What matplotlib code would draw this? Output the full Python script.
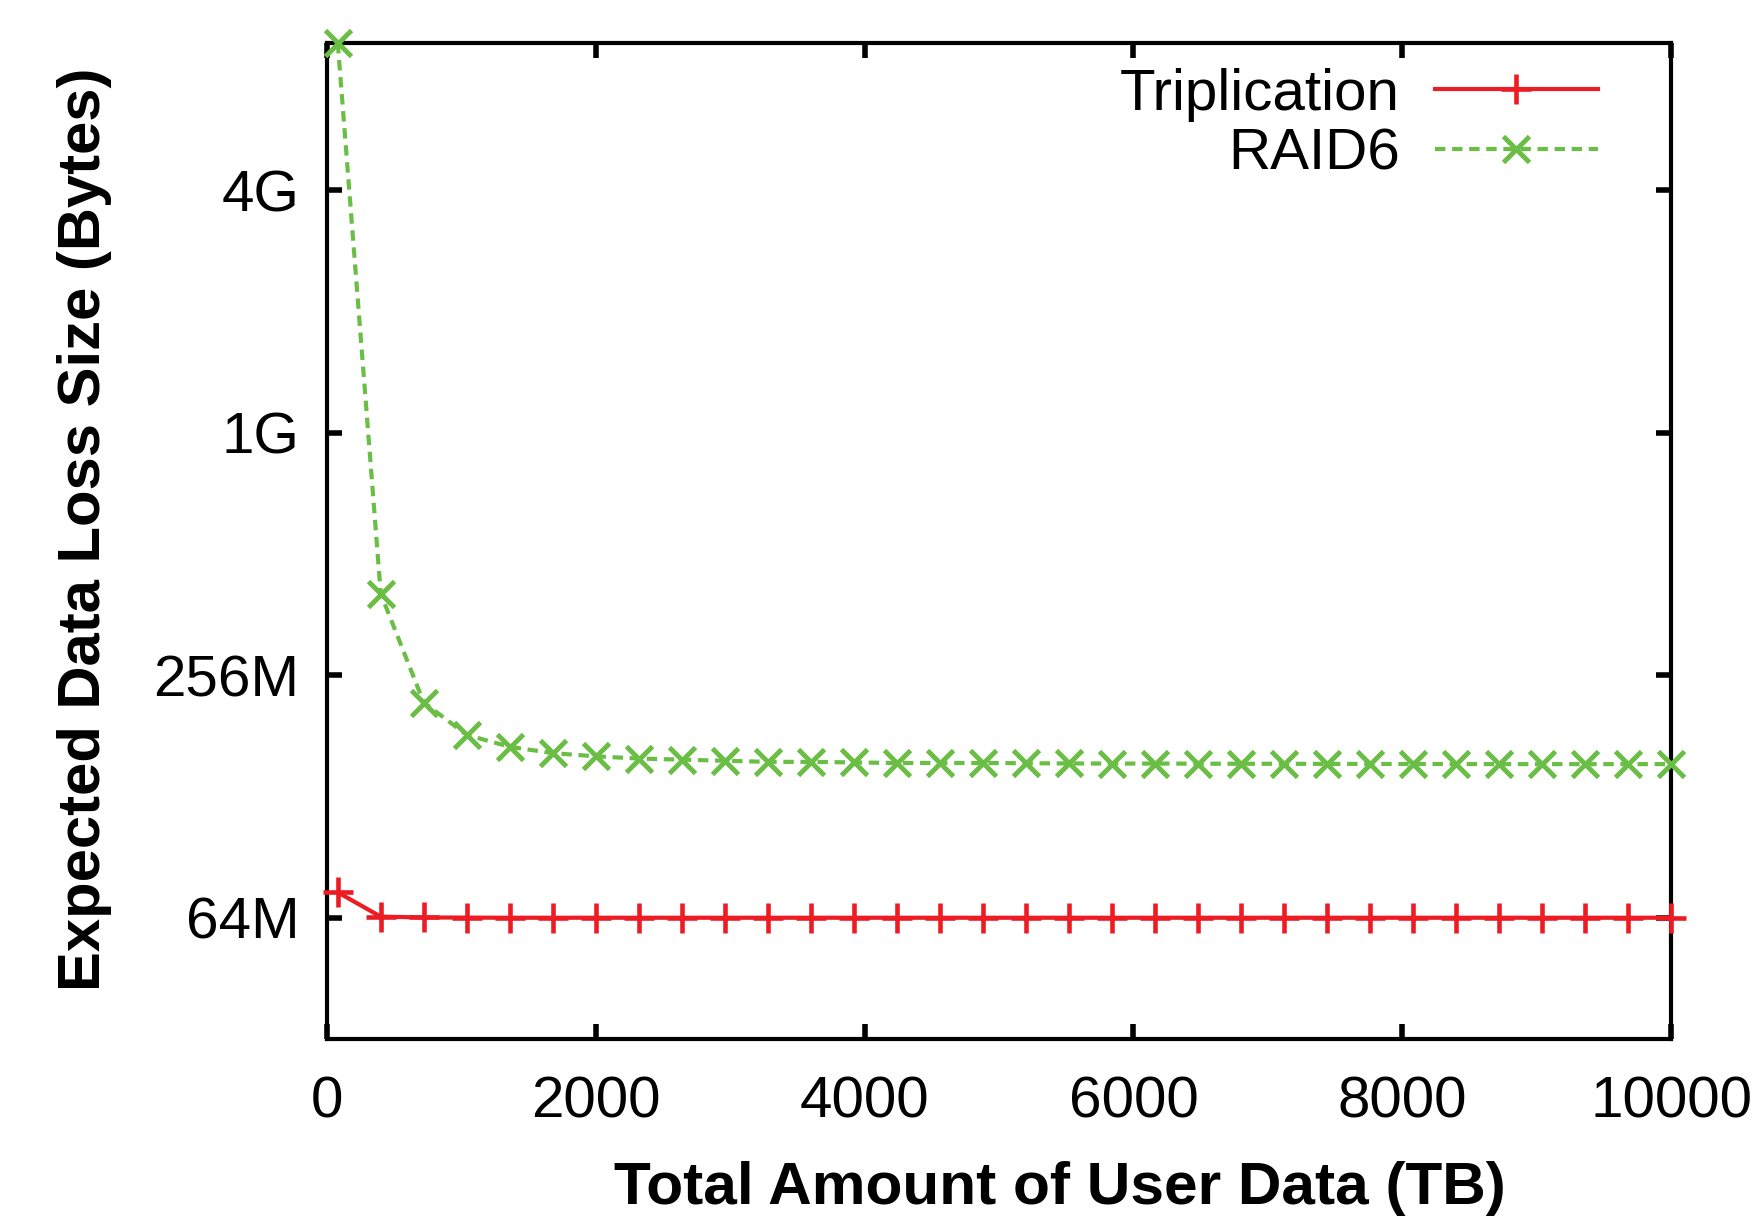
import matplotlib
matplotlib.use("Agg")
import matplotlib.pyplot as plt
from matplotlib.ticker import FixedLocator, NullLocator

# ── data (y in MiB) ──────────────────────────────────────────────────────────
user_data_tb = [80, 400, 720, 1040, 1360, 1680, 2000, 2320, 2640, 2960,
                3280, 3600, 3920, 4240, 4560, 4880, 5200, 5520, 5840, 6160,
                6480, 6800, 7120, 7440, 7760, 8080, 8400, 8720, 9040, 9360,
                9680, 10000]

triplication_mb = [74.0, 64.4, 64.1, 64.05, 64.0, 64.0, 64.0, 64.0, 64.0, 64.0,
                   64.0, 64.0, 64.0, 64.0, 64.0, 64.0, 64.0, 64.0, 64.0, 64.0,
                   64.0, 64.0, 64.0, 64.0, 64.0, 64.0, 64.0, 64.0, 64.0, 64.0,
                   64.0, 64.0]

raid6_mb = [9500, 408, 219, 182, 170, 164, 161, 159, 158, 157,
            156, 156, 155.5, 155, 155, 155, 154.8, 154.6, 154.5, 154.5,
            154.4, 154.3, 154.3, 154.2, 154.2, 154.1, 154.1, 154, 154, 154,
            154, 154]

y_ticks = [64, 256, 1024, 4096]
y_tick_labels = ["64M", "256M", "1G", "4G"]
x_ticks = [0, 2000, 4000, 6000, 8000, 10000]

RED = "#ED1C24"
GREEN = "#6BBE45"

plt.rcParams["font.family"] = ["Liberation Sans", "DejaVu Sans"]

fig = plt.figure(figsize=(17.64, 12.19), dpi=100)
ax = fig.add_axes([327 / 1764, 1 - 1039 / 1219, (1671 - 327) / 1764, (1039 - 43) / 1219])

ax.plot(user_data_tb, triplication_mb, color=RED, lw=3, marker="+",
        ms=21, mew=3.3, label="Triplication", clip_on=False, zorder=3)
ax.plot(user_data_tb, raid6_mb, color=GREEN, lw=3, ls=(0, (2.5, 1.6)), marker="x",
        ms=19, mew=3.5, label="RAID6", clip_on=False, zorder=3)

ax.set_yscale("log", base=2)
ax.set_xlim(0, 10000)
ax.set_ylim(32, 9500)
ax.yaxis.set_major_locator(FixedLocator(y_ticks))
ax.yaxis.set_minor_locator(NullLocator())
ax.set_yticklabels(y_tick_labels)
ax.set_xticks(x_ticks)

ax.tick_params(which="major", direction="in", length=11, width=4,
               top=True, right=True, labelsize=42)
ax.tick_params(axis="x", pad=26)
ax.tick_params(axis="y", pad=20)
for s in ax.spines.values():
    s.set_linewidth(3)

ax.set_xlabel("Total Amount of User Data (TB)", fontsize=43.5, fontweight="bold")
ax.set_ylabel("Expected Data Loss Size (Bytes)", fontsize=43, fontweight="bold")
ax.xaxis.set_label_coords(0.545, -0.122)
ax.yaxis.set_label_coords(-0.16, 0.512)

ax.legend(loc="upper right", bbox_to_anchor=(0.9457, 0.975), markerfirst=False,
          frameon=False, fontsize=42, handlelength=2.8, handletextpad=0.6,
          labelspacing=0.09, borderaxespad=0, borderpad=0)

fig.savefig("out.png", dpi=100)
